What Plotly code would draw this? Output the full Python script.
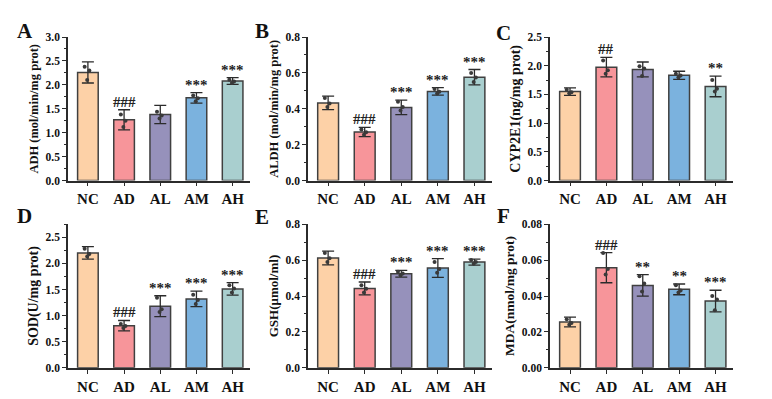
import plotly.graph_objects as go

groups = ["NC", "AD", "AL", "AM", "AH"]
colors = ["#FDD1A7", "#F7959A", "#9691BB", "#7BB2DE", "#A9CFCF"]

# Panel A: ADH
adh_mean = [2.26, 1.27, 1.38, 1.73, 2.08]
adh_sd = [0.22, 0.21, 0.19, 0.11, 0.07]
adh_pts = [[2.38, 2.30, 2.10], [1.38, 1.25, 1.12], [1.44, 1.36, 1.30], [1.78, 1.72, 1.66], [2.11, 2.07, 2.04]]
adh_sig = ["", "###", "", "***", "***"]

# Panel B: ALDH
aldh_mean = [0.433, 0.271, 0.408, 0.497, 0.576]
aldh_sd = [0.038, 0.026, 0.040, 0.021, 0.043]
aldh_pts = [[0.46, 0.43, 0.41], [0.285, 0.27, 0.255], [0.44, 0.41, 0.39], [0.51, 0.495, 0.485], [0.60, 0.575, 0.55]]
aldh_sig = ["", "###", "***", "***", "***"]

# Panel C: CYP2E1
cyp_mean = [1.55, 1.975, 1.935, 1.834, 1.64]
cyp_sd = [0.065, 0.17, 0.13, 0.07, 0.18]
cyp_pts = [[1.58, 1.54, 1.52], [2.09, 1.92, 1.86], [1.99, 1.95, 1.82], [1.86, 1.83, 1.80], [1.75, 1.60, 1.55]]
cyp_sig = ["", "##", "", "", "**"]

# Panel D: SOD
sod_mean = [2.20, 0.806, 1.18, 1.32, 1.51]
sod_sd = [0.12, 0.10, 0.20, 0.15, 0.12]
sod_pts = [[2.28, 2.18, 2.13], [0.84, 0.80, 0.76], [1.34, 1.12, 1.07], [1.40, 1.30, 1.22], [1.58, 1.52, 1.44]]
sod_sig = ["", "###", "***", "***", "***"]

# Panel E: GSH
gsh_mean = [0.612, 0.442, 0.524, 0.556, 0.589]
gsh_sd = [0.038, 0.036, 0.019, 0.052, 0.017]
gsh_pts = [[0.64, 0.61, 0.59], [0.46, 0.44, 0.42], [0.535, 0.525, 0.515], [0.59, 0.55, 0.53], [0.60, 0.59, 0.58]]
gsh_sig = ["", "###", "***", "***", "***"]

# Panel F: MDA
mda_mean = [0.0255, 0.0558, 0.0459, 0.0437, 0.0372]
mda_sd = [0.0027, 0.0084, 0.0060, 0.0030, 0.0060]
mda_pts = [[0.027, 0.025, 0.024], [0.064, 0.055, 0.052], [0.051, 0.047, 0.0425], [0.046, 0.043, 0.042], [0.040, 0.038, 0.032]]
mda_sig = ["", "###", "**", "**", "***"]

panels = [
    ("A", "ADH (mol/min/mg prot)", adh_mean, adh_sd, adh_pts, adh_sig, [0, 3.0], 0.5, ".1f"),
    ("B", "ALDH (mol/min/mg prot)", aldh_mean, aldh_sd, aldh_pts, aldh_sig, [0, 0.8], 0.2, ".1f"),
    ("C", "CYP2E1(ng/mg prot)", cyp_mean, cyp_sd, cyp_pts, cyp_sig, [0, 2.5], 0.5, ".1f"),
    ("D", "SOD(U/mg prot)", sod_mean, sod_sd, sod_pts, sod_sig, [0, 2.75], 0.5, ".1f"),
    ("E", "GSH(μmol/ml)", gsh_mean, gsh_sd, gsh_pts, gsh_sig, [0, 0.8], 0.2, ".1f"),
    ("F", "MDA(nmol/mg prot)", mda_mean, mda_sd, mda_pts, mda_sig, [0, 0.08], 0.02, ".2f"),
]

# layout / style settings
W, H = 772, 399
xpix = [(68, 250), (308, 492), (550, 733)]
ypix = [(32, 180), (225, 373)]
letter_pos = [(25, 26), (262, 26), (503, 28), (25, 217), (262, 218), (503, 217)]
title_sizes = [12.5, 12.5, 14, 14, 13, 13.5]

FONT = "Liberation Serif"
DARK = "#2b2b2b"
jit = [-0.09, 0.04, -0.02]

fig = go.Figure()
for i, (letter, ytitle, mean, sd, pts, sig, yr, dt, fmt) in enumerate(panels):
    r, c = divmod(i, 3)
    n = i + 1
    xa = "x" if n == 1 else f"x{n}"
    ya = "y" if n == 1 else f"y{n}"
    fig.add_trace(go.Bar(
        x=list(range(5)), y=mean, width=0.57,
        marker=dict(color=colors, line=dict(color="#404040", width=1.5)),
        error_y=dict(type="data", array=sd, color=DARK, thickness=1.3, width=6),
        xaxis=xa, yaxis=ya, showlegend=False,
    ))
    px_, py_ = [], []
    for g, vals in enumerate(pts):
        for k, v in enumerate(vals):
            px_.append(g + jit[k])
            py_.append(v)
    fig.add_trace(go.Scatter(
        x=px_, y=py_, mode="markers",
        marker=dict(color="#3a3a3a", size=4),
        xaxis=xa, yaxis=ya, showlegend=False,
    ))
    x0, x1 = xpix[c]
    y0, y1 = ypix[r]
    xkey = "xaxis" if n == 1 else f"xaxis{n}"
    ykey = "yaxis" if n == 1 else f"yaxis{n}"
    fig.update_layout(**{
        xkey: dict(
            domain=[x0 / W, x1 / W], anchor=ya, range=[-0.55, 4.48],
            tickmode="array", tickvals=list(range(5)), ticktext=groups,
            showline=True, linecolor=DARK, linewidth=1.5,
            ticks="outside", ticklen=4, tickwidth=1.3, tickcolor=DARK,
            showgrid=False, zeroline=False,
            tickfont=dict(family=FONT, size=15, color="#111", weight="bold"),
        ),
        ykey: dict(
            domain=[1 - y1 / H, 1 - y0 / H], anchor=xa, range=yr,
            dtick=dt, tick0=0, tickformat=fmt,
            showline=True, linecolor=DARK, linewidth=1.5,
            ticks="outside", ticklen=4, tickwidth=1.3, tickcolor=DARK,
            minor=dict(ticks="outside", ticklen=2, dtick=dt / 2, tickcolor=DARK, tickwidth=1),
            showgrid=False, zeroline=False,
            tickfont=dict(family=FONT, size=11.5, color="#111", weight="bold"),
            title=dict(text="<b>" + ytitle + "</b>", font=dict(family=FONT, size=title_sizes[i], color="#111"), standoff=4),
        ),
    })
    for g in range(5):
        if sig[g]:
            fig.add_annotation(
                x=g, y=mean[g] + sd[g], xref=xa, yref=ya,
                text="<b>" + sig[g] + "</b>", showarrow=False,
                yanchor="bottom", yshift=-2,
                font=dict(family=FONT, size=15, color="#222"),
            )
    lx, ly = letter_pos[i]
    fig.add_annotation(
        x=lx / W, y=1 - ly / H, xref="paper", yref="paper",
        text="<b>" + letter + "</b>", showarrow=False,
        xanchor="center", yanchor="middle",
        font=dict(family=FONT, size=21, color="#111"),
    )

fig.update_layout(
    width=W, height=H, margin=dict(l=0, r=0, t=0, b=0),
    paper_bgcolor="white", plot_bgcolor="white",
    bargap=0.4,
)
fig.write_html("out.html")
